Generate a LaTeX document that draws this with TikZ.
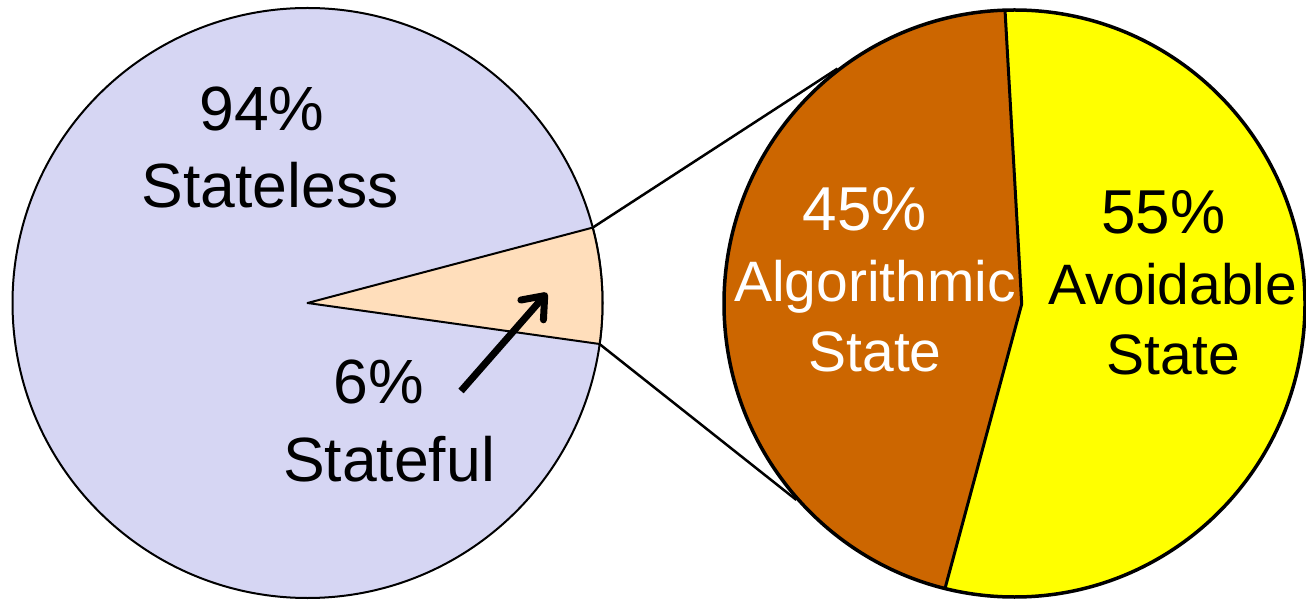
\documentclass[tikz,border=0pt]{standalone}
\usepackage{fontspec}
\setmainfont{Liberation Sans}
\usetikzlibrary{arrows.meta,shapes.geometric,backgrounds}

\definecolor{lavender}{RGB}{214,214,243}
\definecolor{peach}{RGB}{255,222,187}
\definecolor{rust}{RGB}{204,102,0}
\definecolor{lemon}{RGB}{255,255,0}

\tikzset{
  pct/.style={inner sep=0pt, anchor=base, font=\fontsize{62}{62}\selectfont},
  lbl/.style={inner sep=0pt, anchor=base, font=\fontsize{57}{57}\selectfont},
  bigl/.style={inner sep=0pt, anchor=base, font=\fontsize{62.5}{62.5}\selectfont},
  zoomline/.style={draw=black, line width=2.5pt},
  edge/.style={draw=black, line width=2pt},
}

\begin{document}
\begin{tikzpicture}[x=1pt, y=-1pt]
\useasboundingbox (0,0) rectangle (1306,601);

% ---- whole pie ----
\node[circle, draw=black, line width=2pt, fill=lavender, minimum size=590pt, inner sep=0pt]
  (whole) at (307.5,303) {};
\coordinate (c)    at (307.5,303);
\coordinate (wtop) at (592.7,227.6);
\coordinate (wbot) at (599.6,344.1);
\path[edge, fill=peach, line join=round]
  (c) -- (wtop) arc[start angle=-14.8, end angle=8, radius=295] -- cycle;

% ---- exploded part ----
\node[ellipse, draw=black, line width=3.5pt, minimum width=581pt, minimum height=587pt, inner sep=0pt]
  (part) at (1014.5,303.5) {};
\begin{pgfonlayer}{background}
  \fill[lemon] (1014.5,303.5) ellipse[x radius=290.5, y radius=293.5];
  \begin{scope}
    \clip (1014.5,303.5) ellipse[x radius=290.5, y radius=293.5];
    \fill[rust] (1005,5) -- (1021.7,304) -- (944,595) -- (700,610) -- (700,-10) -- cycle;
  \end{scope}
\end{pgfonlayer}
\coordinate (dtop) at (1005,10);
\coordinate (dmid) at (1021.7,304);
\coordinate (dbot) at (945,588.5);
\draw[line width=3pt, line join=round] (dtop) -- (dmid) -- (dbot);

% zoom connectors
\draw[zoomline] (wtop) -- (part.127.6);
\draw[zoomline] (wbot) -- (part.222.3);

% ---- labels ----
\node[bigl] (l94)   at (262,130.5) {94\%};
\node[bigl] (lsl)   at (270,207.6) {Stateless};
\node[bigl] (l6)    at (379,403.3) {6\%};
\node[bigl] (lsf)   at (389,481.6) {Stateful};

\node[pct, text=white] (l45)  at (865,231)   {45\%};
\node[lbl, text=white] (lalg) at (875,301.7) {Algorithmic};
\node[lbl, text=white] (las)  at (875,371.7) {State};

\node[pct] (l55)  at (1163.4,233.3) {55\%};
\node[lbl] (lav)  at (1172.7,305)   {Avoidable};
\node[lbl] (lvs)  at (1173.3,374.3) {State};

% pointer into the wedge
\coordinate (a1) at (461,391);
\coordinate (a2) at (547,293);
\draw[line width=7pt, -{Straight Barb[length=19pt, width=30pt, round]}] (a1) -- (a2);
\end{tikzpicture}
\end{document}
